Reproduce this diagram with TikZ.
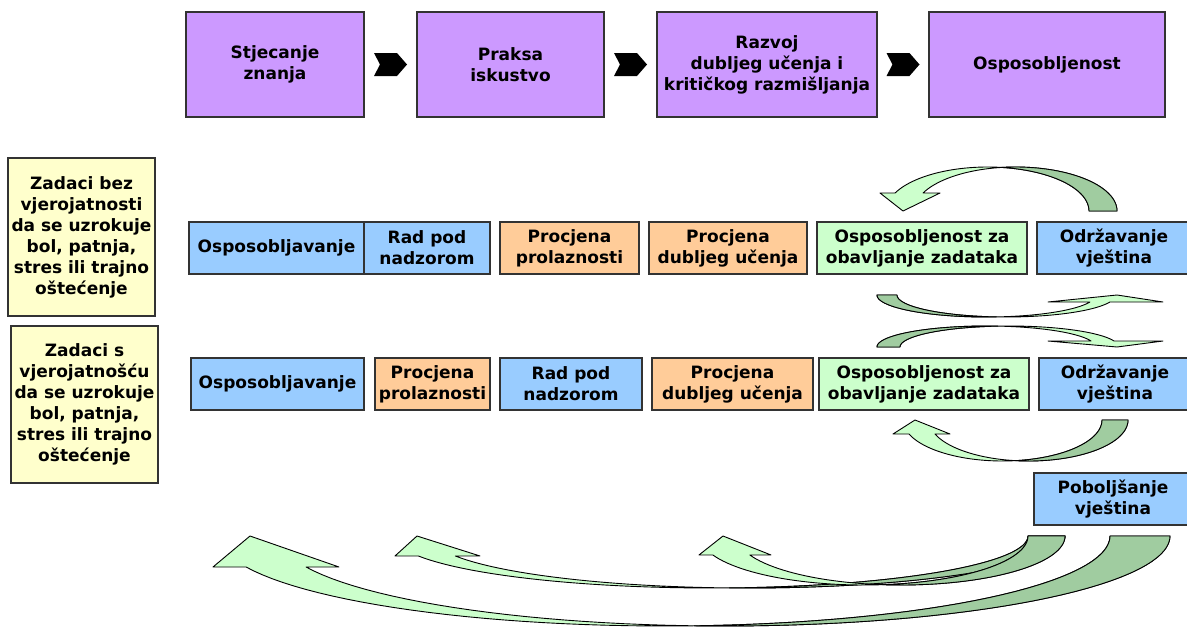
\documentclass[tikz,border=0pt]{standalone}
\usepackage{fontspec}
\setmainfont{DejaVu Sans}
\usetikzlibrary{calc}

\definecolor{boxpurple}{HTML}{CC99FF}
\definecolor{boxblue}{HTML}{99CCFF}
\definecolor{boxorange}{HTML}{FFCC99}
\definecolor{boxgreen}{HTML}{CCFFCC}
\definecolor{boxyellow}{HTML}{FFFFCC}
\definecolor{backgreen}{RGB}{160,204,160}

\newcommand{\lblfont}{\fontsize{17}{21}\selectfont\bfseries}

\tikzset{
  box/.style={draw=black!80, line width=1.1pt, align=center, inner sep=2pt, font=\lblfont, minimum height=52pt},
  topbox/.style={box, fill=boxpurple, minimum height=105pt},
  ribbon/.style={draw=black, line width=0.9pt, line join=round, samples=60},
}

% keys for the curved ribbon arrows
\pgfkeys{/bent/.cd, cx/.store in=\bcx, cy/.store in=\bcy, rx/.store in=\brx, ry/.store in=\bry,
  w/.store in=\bw, sx/.store in=\bsx, sy/.store in=\bsy, t/.store in=\bt,
  near/.store in=\bnear, far/.store in=\bfar, tip/.store in=\btip}

\newcommand{\bentarrow}[1]{%
  \pgfkeys{/bent/.cd,#1}%
  \pgfmathsetmacro{\bcxb}{\bcx-(\bsx)*\bw}%
  \pgfmathsetmacro{\bbase}{\bcy+(\bsy)*\bry*sin(\bt)}%
  \pgfmathsetmacro{\bca}{acos(-\bw/(2*\brx))}%
  \pgfmathsetmacro{\bcb}{acos(\bw/(2*\brx))}%
  \filldraw[ribbon, fill=boxgreen]
    plot[domain=0:\bt] ({\bcx+(\bsx)*\brx*cos(\x)},{\bcy+(\bsy)*\bry*sin(\x)})
    -- (\bnear,\bbase) -- (\btip,\bcy) -- (\bfar,\bbase)
    -- plot[domain=\bt:0] ({\bcxb+(\bsx)*\brx*cos(\x)},{\bcy+(\bsy)*\bry*sin(\x)})
    -- cycle;
  \filldraw[ribbon, fill=backgreen]
    plot[domain=0:\bca] ({\bcx+(\bsx)*\brx*cos(\x)},{\bcy+(\bsy)*\bry*sin(\x)})
    -- plot[domain=\bcb:0] ({\bcxb+(\bsx)*\brx*cos(\x)},{\bcy+(\bsy)*\bry*sin(\x)})
    -- cycle;
}

\begin{document}
\begin{tikzpicture}[x=1pt, y=-1pt]
  \useasboundingbox (0,0) rectangle (1187,627);
  \clip (0,0) rectangle (1187,627);

  % Top row: stages
  \node[topbox, minimum width=178pt] (stjecanje) at (275,64.5) {Stjecanje\\znanja};
  \node[topbox, minimum width=187pt] (praksa) at (510.5,64.5) {Praksa\\iskustvo};
  \node[topbox, minimum width=220pt] (razvoj) at (767,64.5) {Razvoj\\dubljeg učenja i\\kritičkog razmišljanja};
  \node[topbox, minimum width=236pt] (osposobljenost) at (1047,64.5) {Osposobljenost};

  % chevrons between the stages
  \foreach \a/\b in {stjecanje/praksa, praksa/razvoj, razvoj/osposobljenost}
    \fill[black, shift={($(\a.east)!0.5!(\b.west)$)}]
      (-16.5,-11.5) -- (6.5,-11.5) -- (16.5,0) -- (6.5,11.5) -- (-16.5,11.5) -- (-10.5,0) -- cycle;

  % Task categories
  \node[box, fill=boxyellow, minimum width=147pt, minimum height=158pt] (bez) at (81.5,237)
    {Zadaci bez\\vjerojatnosti\\da se uzrokuje\\bol, patnja,\\stres ili trajno\\oštećenje};
  \node[box, fill=boxyellow, minimum width=147pt, minimum height=157pt] (sa) at (84.5,404.5)
    {Zadaci s\\vjerojatnošću\\da se uzrokuje\\bol, patnja,\\stres ili trajno\\oštećenje};

  % First path
  \node[box, fill=boxblue, minimum width=175pt] (osp1) at (276.5,248) {Osposobljavanje};
  \node[box, fill=boxblue, minimum width=126pt] (rad1) at (427,248) {Rad pod\\nadzorom};
  \node[box, fill=boxorange, minimum width=139pt] (prol1) at (569.5,248) {Procjena\\prolaznosti};
  \node[box, fill=boxorange, minimum width=158pt] (dub1) at (728,248) {Procjena\\dubljeg učenja};
  \node[box, fill=boxgreen, minimum width=210pt] (zad1) at (922,248) {Osposobljenost za\\obavljanje zadataka};
  \node[box, fill=boxblue, minimum width=154pt] (odr1) at (1114,248) {Održavanje\\vještina};

  % Second path
  \node[box, fill=boxblue, minimum width=173pt] (osp2) at (277.5,384) {Osposobljavanje};
  \node[box, fill=boxorange, minimum width=115pt] (prol2) at (432.5,384) {Procjena\\prolaznosti};
  \node[box, fill=boxblue, minimum width=142pt] (rad2) at (571,384) {Rad pod\\nadzorom};
  \node[box, fill=boxorange, minimum width=161pt] (dub2) at (732.5,384) {Procjena\\dubljeg učenja};
  \node[box, fill=boxgreen, minimum width=210pt] (zad2) at (924,384) {Osposobljenost za\\obavljanje zadataka};
  \node[box, fill=boxblue, minimum width=152pt] (odr2) at (1115,384) {Održavanje\\vještina};

  \node[box, fill=boxblue, minimum width=158pt] (pob) at (1113,499) {Poboljšanje\\vještina};

  % Curved ribbon arrows
  \bentarrow{cx=1015.6, cy=211, rx=101.4, ry=44, w=28, sx=1, sy=-1, t=155.85, near=940, far=880, tip=903}
  \bentarrow{cx=986.3, cy=295, rx=109.3, ry=22, w=20, sx=-1, sy=1, t=161.45, near=1048, far=1163, tip=1117}
  \bentarrow{cx=986.3, cy=347, rx=109.3, ry=21, w=23, sx=-1, sy=-1, t=163.4, near=1048, far=1163, tip=1117}
  \bentarrow{cx=1028.5, cy=420, rx=99.5, ry=41, w=26, sx=1, sy=1, t=160.03, near=950, far=893, tip=915}

  % back to the start
  \bentarrow{cx=724.4, cy=536, rx=445.6, ry=90, w=60, sx=1, sy=1, t=159.85, near=339, far=213, tip=250}
  \bentarrow{cx=748, cy=536, rx=317, ry=52, w=37, sx=1, sy=1, t=157.4, near=480, far=395, tip=417}
  \bentarrow{cx=901, cy=536, rx=164, ry=49, w=37, sx=1, sy=1, t=157.2, near=771, far=699, tip=723}
\end{tikzpicture}
\end{document}
